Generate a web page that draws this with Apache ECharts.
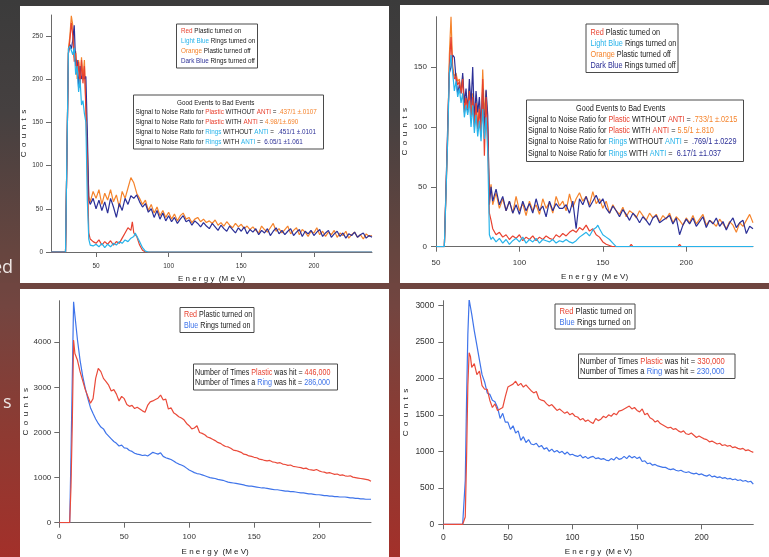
<!DOCTYPE html>
<html lang="en">
<head>
<meta charset="UTF-8">
<title>Energy spectra - plastic and rings</title>
<script src="https://cdn.jsdelivr.net/npm/echarts@6/dist/echarts.min.js"></script>
<style>
  html, body { margin: 0; padding: 0; background: #3b3b3b; }
  #main { width: 769px; height: 557px; }
</style>
</head>
<body>
<div id="main"></div>
<script type="text/javascript">
// ---- colours ----
var RED = '#e8412f', LIGHT_BLUE = '#27b3ea', ORANGE = '#f5832b', DARK_BLUE = '#2b2f97';
var RED2 = '#ea4a3a', BLUE2 = '#3f74ea';

// ---- chart A (top left) ----
var energyA = [19, 29, 30, 31, 32, 33, 34, 35, 36, 37, 38, 39, 40, 41, 42, 43, 44, 45, 46,
  48, 50, 52, 54, 56, 58, 60, 62, 64, 66, 68, 70, 72, 74, 76, 78, 80, 82, 84, 86, 88, 90, 92, 94, 96, 98,
  100, 102, 104, 106, 108, 110, 112, 114, 116, 118, 120, 122, 124, 126, 128, 130, 132, 134, 136, 138, 140, 142, 144, 146, 148,
  150, 152, 154, 156, 158, 160, 162, 164, 166, 168, 170, 172, 174, 176, 178, 180, 182, 184, 186, 188, 190, 192, 194, 196, 198,
  200, 202, 204, 206, 208, 210, 212, 214, 216, 218, 220, 222, 224, 226, 228, 230, 232, 234, 236, 238, 240];
var orangeA = [0, 0, 0, 235, 250, 273, 262, 225, 232, 200, 222, 195, 225, 200, 222, 170, 120, 65, 58,
  70, 62, 72, 55, 68, 60, 72, 58, 66, 52, 70, 62, 74, 86, 80, 68, 62, 55, 60, 48, 55, 45, 52, 42, 48, 40,
  46, 38, 44, 36, 42, 45, 38, 40, 34, 38, 40, 35, 38, 34, 36, 33, 37, 31, 34, 30, 35, 31, 28, 33, 29,
  32, 27, 30, 26, 29, 25, 22, 30, 26, 23, 28, 33, 24, 27, 22, 26, 30, 21, 25, 28, 20, 26, 23, 18, 24,
  22, 28, 20, 24, 18, 23, 20, 25, 17, 22, 19, 24, 16, 20, 23, 17, 20, 15, 21, 18, 19];
var darkBlueA = [0, 0, 0, 230, 240, 235, 245, 262, 215, 222, 190, 215, 200, 205, 200, 203, 140, 60, 55,
  62, 50, 60, 48, 58, 45, 62, 52, 40, 56, 48, 62, 55, 65, 62, 66, 58, 52, 56, 46, 50, 40, 48, 38, 45, 36,
  42, 35, 40, 33, 38, 42, 35, 37, 31, 36, 33, 29, 34, 30, 27, 33, 29, 25, 31, 27, 24, 30, 26, 22, 28,
  24, 29, 21, 26, 23, 27, 20, 25, 22, 27, 19, 24, 28, 21, 25, 20, 24, 27, 19, 23, 26, 18, 24, 21, 25,
  19, 23, 26, 18, 22, 25, 17, 21, 24, 18, 22, 16, 21, 19, 23, 17, 20, 22, 16, 19, 17];
var energyRedA = [19, 29, 30, 31, 32, 33, 34, 35, 36, 37, 38, 39, 40, 41, 42, 43, 44, 45, 46,
  48, 50, 52, 54, 56, 58, 60, 62, 64, 66, 68, 70, 72, 74, 75, 76, 78, 80, 82, 84,
  108, 109, 110, 136, 137, 138, 200, 201, 202, 240];
var redA = [0, 0, 0, 230, 245, 265, 250, 220, 230, 205, 220, 190, 222, 195, 215, 165, 100, 22, 15,
  12, 10, 14, 8, 12, 9, 13, 8, 12, 10, 16, 22, 28, 25, 35, 22, 18, 8, 2, 0,
  0, 2, 0, 0, 2, 0, 0, 2, 0, 0];
var energyLightBlueA = [19, 29, 30, 31, 32, 33, 34, 35, 36, 37, 38, 39, 40, 41, 42, 43, 44, 45, 46,
  48, 50, 52, 54, 56, 58, 60, 62, 64, 66, 68, 70, 72, 74, 76, 77, 78, 80, 82, 84, 86, 240];
var lightBlueA = [0, 0, 0, 235, 238, 240, 228, 236, 205, 215, 185, 200, 170, 175, 160, 150, 60, 15, 8,
  7, 9, 6, 10, 5, 9, 6, 10, 8, 12, 10, 14, 12, 16, 18, 22, 20, 12, 5, 1, 0, 0];

// ---- chart B (top right) ----
var energyB = [50, 55, 56, 57, 58, 59, 60, 61, 62, 63, 64, 65, 66, 67, 68, 69, 70, 71, 72, 73, 74, 75, 76, 77, 78, 79, 80, 81, 82, 83,
  84, 86, 88, 90, 92, 94, 96, 98, 100, 102, 104, 106, 108, 110, 112, 114, 116, 118, 120, 122, 124, 126, 128, 130,
  132, 134, 136, 138, 140, 142, 144, 146, 148, 150, 152, 154, 156, 158, 160, 162, 164, 166, 168, 170, 172, 174, 176, 178, 180,
  182, 184, 186, 188, 190, 192, 194, 196, 198, 200, 202, 204, 206, 208, 210, 212, 214, 216, 218, 220, 222, 224, 226, 228, 230,
  232, 234, 236, 238, 240];
var orangeB = [0, 0, 0, 90, 160, 192, 150, 142, 145, 138, 140, 130, 142, 115, 125, 118, 132, 110, 128, 105, 122, 100, 118, 96, 148, 110, 130, 100, 42, 52,
  35, 45, 32, 40, 30, 38, 28, 42, 30, 36, 26, 38, 30, 35, 27, 40, 32, 37, 28, 42, 34, 38, 30, 44,
  33, 40, 45, 38, 42, 35, 46, 36, 40, 32, 38, 28, 35, 30, 27, 33, 25, 30, 28, 24, 30, 26, 22, 28, 24,
  27, 21, 26, 23, 28, 20, 25, 22, 18, 24, 20, 26, 19, 23, 27, 18, 22, 20, 17, 23, 19, 15, 21, 18, 12,
  20, 17, 22, 27, 20];
var darkBlueB = [0, 0, 0, 100, 145, 150, 160, 158, 140, 128, 135, 128, 145, 120, 132, 112, 140, 118, 150, 105, 130, 112, 125, 100, 132, 95, 131, 110, 35, 50,
  38, 48, 35, 42, 30, 38, 28, 35, 27, 38, 30, 36, 28, 40, 30, 34, 25, 38, 30, 36, 32, 32, 35, 28,
  38, 15, 40, 35, 42, 33, 38, 43, 36, 40, 32, 28, 34, 30, 25, 31, 27, 22, 28, 25, 20, 25, 22, 18, 24,
  26, 20, 22, 24, 26, 19, 24, 10, 18, 23, 19, 24, 17, 21, 25, 16, 22, 19, 24, 17, 21, 14, 20, 24, 16,
  20, 22, 11, 17, 15];
var energyRedB = [50, 55, 56, 57, 58, 59, 60, 61, 62, 63, 64, 65, 66, 67, 68, 69, 70, 71, 72, 73, 74, 75, 76, 77, 78, 79, 80, 81, 82, 83,
  84, 86, 88, 90, 92, 94, 96, 98, 100, 102, 104, 106, 108, 110, 112, 114, 116, 118, 120, 122, 124, 126, 128, 130,
  132, 134, 136, 138, 140, 142, 144, 146, 148, 150, 152, 154, 156, 166, 167, 168, 195, 196, 197, 240];
var redB = [0, 0, 0, 95, 150, 175, 148, 140, 142, 135, 138, 128, 140, 112, 124, 115, 130, 108, 125, 100, 120, 98, 115, 92, 140, 76, 125, 95, 28, 22,
  15, 10, 12, 8, 10, 6, 9, 7, 10, 5, 8, 6, 9, 5, 8, 6, 9, 7, 6, 10, 8, 11, 9, 12,
  14, 12, 16, 14, 18, 13, 15, 10, 8, 4, 2, 1, 0, 0, 2, 0, 0, 2, 0, 0];
var energyLightBlueB = [50, 55, 56, 57, 58, 59, 60, 61, 62, 63, 64, 65, 66, 67, 68, 69, 70, 71, 72, 73, 74, 75, 76, 77, 78, 79, 80, 81, 82, 83,
  84, 86, 88, 90, 92, 94, 96, 98, 100, 102, 104, 106, 108, 110, 112, 114, 116, 118, 120, 122, 124, 126, 128, 130,
  132, 134, 136, 138, 140, 142, 144, 146, 147, 148, 150, 152, 154, 156, 158, 240];
var lightBlueB = [0, 0, 0, 90, 145, 160, 145, 130, 138, 125, 132, 120, 128, 108, 118, 110, 122, 100, 118, 95, 110, 92, 105, 88, 115, 90, 108, 80, 10, 6,
  8, 4, 7, 3, 6, 2, 5, 7, 4, 8, 3, 6, 4, 7, 3, 6, 5, 4, 6, 3, 5, 4, 6, 4,
  3, 5, 8, 10, 12, 9, 14, 16, 18, 15, 10, 8, 6, 3, 0, 0];

// ---- chart C (bottom left) ----
var energyC = [0, 8, 9, 10, 11, 12,
  14, 16, 18, 20, 22, 24, 26, 28, 30, 32, 34, 36, 38, 40, 42, 44, 46, 48, 50, 52, 54, 56, 58, 60,
  62, 64, 66, 68, 70, 72, 74, 76, 78, 80, 82, 84, 86, 88, 90, 92, 94, 96, 98, 100,
  102, 104, 106, 108, 110, 112, 114, 116, 118, 120, 122, 124, 126, 128, 130, 132, 134, 136, 138, 140,
  142, 144, 146, 148, 150, 152, 154, 156, 158, 160, 162, 164, 166, 168, 170, 172, 174, 176, 178, 180,
  182, 184, 186, 188, 190, 192, 194, 196, 198, 200, 202, 204, 206, 208, 210, 212, 214, 216, 218, 220,
  222, 224, 226, 228, 230, 232, 234, 236, 238, 240];
var redC = [0, 0, 800, 2200, 4050, 3750,
  3600, 3350, 3150, 2950, 2800, 2650, 2750, 3200, 3420, 3350, 3200, 3130, 3050, 2920, 2950, 2850, 2700, 2800, 2750, 2620, 2580, 2600, 2530, 2560,
  2520, 2480, 2450, 2600, 2680, 2700, 2730, 2760, 2830, 2720, 2740, 2520, 2550, 2440, 2400, 2350, 2320, 2280, 2200, 2150,
  2080, 2100, 2150, 2000, 1980, 1950, 1900, 1880, 1850, 1820, 1780, 1760, 1720, 1690, 1680, 1650, 1610, 1600, 1580, 1560,
  1520, 1510, 1480, 1470, 1450, 1440, 1410, 1400, 1380, 1370, 1380, 1350, 1340, 1320, 1330, 1300, 1290, 1270, 1280, 1250,
  1240, 1230, 1220, 1200, 1210, 1180, 1170, 1160, 1180, 1150, 1130, 1120, 1100, 1110, 1090, 1070, 1080, 1050, 1060, 1040,
  1030, 1040, 1010, 1000, 990, 980, 970, 960, 950, 920];
var blueC = [0, 0, 1500, 3200, 4900, 4600,
  4050, 3600, 3250, 2980, 2750, 2550, 2420, 2300, 2200, 2120, 2080, 1980, 1920, 1860, 1800, 1760, 1700, 1720, 1660, 1650, 1600, 1580, 1540, 1520,
  1510, 1490, 1500, 1480, 1520, 1560, 1540, 1520, 1550, 1470, 1440, 1420, 1400, 1370, 1330, 1300, 1280, 1250, 1210, 1170,
  1140, 1110, 1090, 1080, 1060, 1040, 1020, 1000, 990, 980, 960, 950, 940, 920, 900, 890, 880, 870, 860, 850,
  840, 820, 810, 810, 800, 790, 780, 770, 770, 760, 750, 740, 730, 730, 720, 710, 700, 700, 690, 690,
  680, 670, 660, 660, 650, 640, 640, 630, 620, 620, 610, 600, 600, 590, 590, 580, 580, 570, 570, 570,
  560, 550, 550, 540, 540, 530, 530, 520, 520, 520];

// ---- chart D (bottom right) ----
var energyD = [0, 15, 16, 17, 18, 19, 20, 21, 22,
  24, 26, 28, 30, 32, 34, 36, 38, 40, 42, 44, 46, 48, 50, 52, 54, 56, 58, 60,
  62, 64, 66, 68, 70, 72, 74, 76, 78, 80, 82, 84, 86, 88, 90, 92, 94, 96, 98, 100,
  102, 104, 106, 108, 110, 112, 114, 116, 118, 120, 122, 124, 126, 128, 130, 132, 134, 136, 138, 140,
  142, 144, 146, 148, 150, 152, 154, 156, 158, 160, 162, 164, 166, 168, 170, 172, 174, 176, 178, 180,
  182, 184, 186, 188, 190, 192, 194, 196, 198, 200, 202, 204, 206, 208, 210, 212, 214, 216, 218, 220,
  222, 224, 226, 228, 230, 232, 234, 236, 238, 240];
var redD = [0, 0, 0, 100, 900, 1900, 2350, 2300, 2150,
  2200, 2050, 2100, 1900, 1850, 1850, 1700, 1600, 1650, 1560, 1580, 1600, 1750, 1880, 1900, 1920, 1960, 1900, 1930,
  1880, 1910, 1870, 1830, 1800, 1820, 1720, 1700, 1690, 1650, 1620, 1640, 1600, 1560, 1580, 1550, 1520, 1540, 1500, 1520,
  1480, 1470, 1430, 1450, 1410, 1430, 1400, 1380, 1450, 1420, 1440, 1480, 1460, 1500, 1480, 1520, 1500, 1550, 1560, 1580,
  1600, 1620, 1580, 1600, 1560, 1540, 1580, 1500, 1520, 1460, 1440, 1400, 1420, 1380, 1360, 1340, 1320, 1330, 1300, 1310,
  1280, 1260, 1280, 1240, 1230, 1250, 1220, 1190, 1210, 1190, 1170, 1160, 1130, 1140, 1120, 1100, 1110, 1080, 1090, 1070,
  1080, 1050, 1060, 1040, 1030, 1040, 1010, 1020, 1000, 985];
var blueD = [0, 0, 0, 600, 1700, 2600, 3080, 2980, 2880,
  2650, 2450, 2250, 2050, 1950, 1800, 1780, 1700, 1680, 1600, 1450, 1520, 1400, 1400, 1300, 1350, 1250, 1280, 1150,
  1200, 1120, 1160, 1100, 1090, 1110, 1060, 1080, 1030, 1050, 1000, 1030, 990, 1010, 980, 1000, 960, 990, 950, 960,
  940, 930, 950, 910, 930, 900, 920, 930, 900, 910, 890, 900, 880, 870, 900, 880, 920, 890, 900, 930,
  900, 940, 910, 930, 900, 920, 860, 870, 830, 840, 810, 820, 800, 790, 780, 780, 760, 750, 760, 740,
  730, 740, 720, 710, 720, 700, 690, 700, 680, 690, 670, 660, 680, 650, 660, 640, 650, 630, 640, 620,
  630, 610, 620, 600, 610, 590, 600, 580, 590, 550];

// ---- tick values ----
var xTicksA = [50, 100, 150, 200];
var yTicksA = [0, 50, 100, 150, 200, 250];
var xTicksB = [50, 100, 150, 200];
var yTicksB = [0, 50, 100, 150];
var xTicksC = [0, 50, 100, 150, 200];
var yTicksC = [0, 1000, 2000, 3000, 4000];
var xTicksD = [0, 50, 100, 150, 200];
var yTicksD = [0, 500, 1000, 1500, 2000, 2500, 3000];

// ---- box texts ----
var legendFour = ['{r|Red} Plastic turned on', '{lb|Light Blue} Rings turned on',
  '{o|Orange} Plastic turned off', '{db|Dark Blue} Rings turned off'];
var ratiosA = ['Signal to Noise Ratio for {r|Plastic} WITHOUT {r|ANTI} = {o|.437/1 ±.0107}',
  'Signal to Noise Ratio for {r|Plastic} WITH {r|ANTI} = {o|4.98/1±.690}',
  'Signal to Noise Ratio for {lb|Rings} WITHOUT {lb|ANTI} =  {db|.451/1 ±.0101}',
  'Signal to Noise Ratio for {lb|Rings} WITH {lb|ANTI} =  {db|6.05/1 ±1.061}'];
var ratiosB = ['Signal to Noise Ratio for {r|Plastic} WITHOUT {r|ANTI} = {o|.733/1 ±.0215}',
  'Signal to Noise Ratio for {r|Plastic} WITH {r|ANTI} = {o|5.5/1 ±.810}',
  'Signal to Noise Ratio for {lb|Rings} WITHOUT {lb|ANTI} =  {db|.769/1 ±.0229}',
  'Signal to Noise Ratio for {lb|Rings} WITH {lb|ANTI} =  {db|6.17/1 ±1.037}'];
var legendTwo = ['{r|Red} Plastic turned on', '{b|Blue} Rings turned on'];
var hitsC = ['Number of Times {r|Plastic} was hit = {r|446,000}', 'Number of Times a {b|Ring} was hit = {b|286,000}'];
var hitsD = ['Number of Times {r|Plastic} was hit = {r|330,000}', 'Number of Times a {b|Ring} was hit = {b|230,000}'];

var FONT = 'Liberation Sans';
var myChart = echarts.init(document.getElementById('main'));

function pairs(xs, ys) {
  return xs.map(function (x, i) { return [x, ys[i]]; });
}

function line(idx, xs, ys, color) {
  return {
    type: 'line', xAxisIndex: idx, yAxisIndex: idx, data: pairs(xs, ys),
    showSymbol: false, symbol: 'none', silent: true, animation: false,
    lineStyle: { color: color, width: 1.2 }, itemStyle: { color: color }
  };
}

function axis(idx, min, max, ticks, size, margin, name, nameGap, isY) {
  return {
    type: 'value', gridIndex: idx, min: min, max: max,
    name: name, nameLocation: 'middle', nameGap: nameGap, nameRotate: isY ? 90 : 0,
    nameTextStyle: { fontFamily: FONT, fontSize: 8, color: '#222' },
    axisLine: { show: true, onZero: false, lineStyle: { color: '#6a6a6a', width: 1 } },
    axisTick: { show: true, inside: false, length: 5, customValues: ticks, lineStyle: { color: '#6a6a6a' } },
    axisLabel: {
      customValues: ticks, fontFamily: FONT, fontSize: size, color: '#333', margin: margin,
      formatter: function (v) { return String(v); }
    },
    splitLine: { show: false }
  };
}

function richFor(size) {
  function s(c) { return { fill: c, fontSize: size, fontFamily: FONT }; }
  return { r: s(RED), lb: s(LIGHT_BLUE), o: s(ORANGE), db: s(DARK_BLUE), b: s(BLUE2) };
}

function textLine(x, y, text, size, align) {
  return {
    type: 'text', x: x, y: y, scaleX: 0.82, z: 12, silent: true,
    style: {
      text: text, fontSize: size, fontFamily: FONT, fill: '#1a1a1a',
      textAlign: align || 'left', textVerticalAlign: 'middle', verticalAlign: 'middle',
      rich: richFor(size)
    }
  };
}

function box(x, y, w, h) {
  return {
    type: 'rect', z: 11, silent: true, shape: { x: x, y: y, width: w, height: h },
    style: { fill: '#fff', stroke: '#4a4a4a', lineWidth: 1 }
  };
}

function lines(x, y0, step, texts, size) {
  return texts.map(function (t, i) { return textLine(x, y0 + i * step, t, size); });
}

function panel(x, y, w, h) {
  return { type: 'rect', z: -9, silent: true, shape: { x: x, y: y, width: w, height: h }, style: { fill: '#fff' } };
}

var graphics = [
  {
    type: 'rect', z: -10, silent: true, shape: { x: 0, y: 0, width: 769, height: 557 },
    style: {
      fill: {
        type: 'linear', x: 0, y: 0, x2: 0, y2: 1,
        colorStops: [
          { offset: 0, color: '#3b3b3b' }, { offset: 0.2, color: '#454040' },
          { offset: 0.45, color: '#66453f' }, { offset: 0.55, color: '#734540' },
          { offset: 0.78, color: '#8e3a32' }, { offset: 1, color: '#a3302a' }
        ]
      }
    }
  },
  panel(20, 6, 369, 277), panel(400, 5, 369, 278),
  panel(20, 289, 369, 268), panel(400, 289, 369, 268),
  { type: 'rect', z: 20, silent: true, shape: { x: 0, y: 283, width: 769, height: 6 }, style: { fill: '#6f4540' } },
  { type: 'text', x: 13, y: 277, z: 1, silent: true, style: { text: 'ed', font: '18px "Open Sans"', fill: '#eee6e4', textAlign: 'right', textVerticalAlign: 'bottom', verticalAlign: 'bottom' } },
  { type: 'text', x: 3, y: 412, z: 1, silent: true, style: { text: 's', font: '18px "Open Sans"', fill: '#eee6e4', textAlign: 'left', textVerticalAlign: 'bottom', verticalAlign: 'bottom' } },

  box(176.5, 24, 81, 44), box(133.5, 95, 190, 54),
  box(586, 24, 92, 48.5), box(526.5, 100, 217, 61.5),
  box(180, 307.5, 74, 25), box(193.5, 364, 144, 26),
  box(555, 304, 80, 25), box(578.5, 354, 156.5, 24.5),
  textLine(215.7, 102.7, 'Good Events to Bad Events', 7.7, 'center'),
  textLine(620.7, 108.3, 'Good Events to Bad Events', 8.9, 'center')
].concat(
  lines(181, 31, 10, legendFour, 7.7),
  lines(135.5, 112.3, 9.7, ratiosA, 7.7),
  lines(590.5, 32.3, 11.2, legendFour, 8.9),
  lines(528, 119.3, 11.3, ratiosB, 8.9),
  lines(184, 314.3, 11.7, legendTwo, 8.7),
  lines(195, 372.3, 10.7, hitsC, 8.7),
  lines(559.5, 311, 11, legendTwo, 9.3),
  lines(580, 361, 10.7, hitsD, 9.3)
);

var option = {
  animation: false,
  backgroundColor: '#3b3b3b',
  grid: [
    { left: 51, top: 15, width: 321, height: 237, containLabel: false, outerBoundsMode: 'none' },
    { left: 436, top: 16.7, width: 317, height: 230, containLabel: false, outerBoundsMode: 'none' },
    { left: 59.3, top: 300.7, width: 311.7, height: 222, containLabel: false, outerBoundsMode: 'none' },
    { left: 443.3, top: 300.7, width: 310, height: 223.6, containLabel: false, outerBoundsMode: 'none' }
  ],
  xAxis: [
    axis(0, 19, 240, xTicksA, 6.5, 11, 'E n e r g y  (M e V)', 23, false),
    axis(1, 50, 240, xTicksB, 8, 12, 'E n e r g y  (M e V)', 26, false),
    axis(2, 0, 240, xTicksC, 8, 10, 'E n e r g y  (M e V)', 25, false),
    axis(3, 0, 240, xTicksD, 8.5, 9, 'E n e r g y  (M e V)', 23.5, false)
  ],
  yAxis: [
    axis(0, 0, 274, yTicksA, 6.5, 8, 'C  o  u  n  t  s', 22, true),
    axis(1, 0, 192, yTicksB, 8, 9, 'C  o  u  n  t  s', 27, true),
    axis(2, 0, 4922, yTicksC, 8, 8, 'C  o  u  n  t  s', 30, true),
    axis(3, 0, 3063, yTicksD, 8.5, 9, 'C  o  u  n  t  s', 34, true)
  ],
  series: [
    line(0, energyA, orangeA, ORANGE),
    line(0, energyA, darkBlueA, DARK_BLUE),
    line(0, energyRedA, redA, RED),
    line(0, energyLightBlueA, lightBlueA, LIGHT_BLUE),
    line(1, energyB, orangeB, ORANGE),
    line(1, energyB, darkBlueB, DARK_BLUE),
    line(1, energyRedB, redB, RED),
    line(1, energyLightBlueB, lightBlueB, LIGHT_BLUE),
    line(2, energyC, blueC, BLUE2),
    line(2, energyC, redC, RED2),
    line(3, energyD, blueD, BLUE2),
    line(3, energyD, redD, RED2)
  ],
  graphic: { elements: graphics }
};

myChart.setOption(option);
</script>
</body>
</html>
